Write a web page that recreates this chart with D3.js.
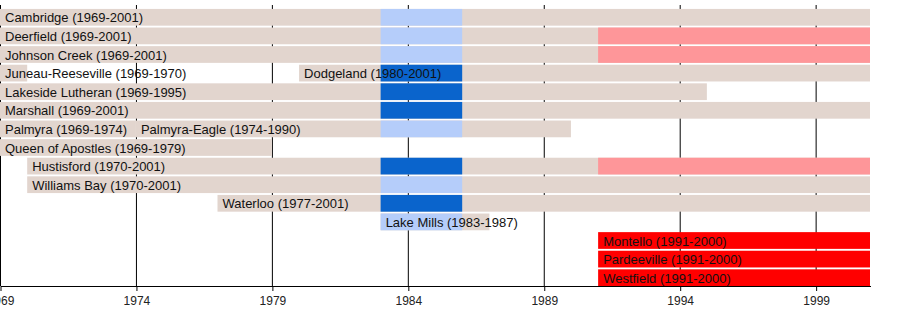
<!DOCTYPE html>
<html>
<head>
<meta charset="utf-8">
<script src="https://cdn.jsdelivr.net/npm/d3@7/dist/d3.min.js"></script>
<style>
  html, body { margin: 0; padding: 0; background: #fff; }
  svg { display: block; }
</style>
</head>
<body>
<script>
// ---- data ----
const rows = ["Cambridge","Deerfield","Johnson Creek","Juneau-Reeseville","Lakeside Lutheran","Marshall",
  "Palmyra","Queen of Apostles","Hustisford","Williams Bay","Waterloo","Lake Mills","Montello","Pardeeville","Westfield"];

// main membership bars: [row, from, to]
const memberBars = [
  ["Cambridge",1969,2001],["Deerfield",1969,2001],["Johnson Creek",1969,2001],
  ["Juneau-Reeseville",1969,1970],["Juneau-Reeseville",1980,2001],
  ["Lakeside Lutheran",1969,1995],["Marshall",1969,2001],
  ["Palmyra",1969,1974],["Palmyra",1974,1990],["Queen of Apostles",1969,1979],
  ["Hustisford",1970,2001],["Williams Bay",1970,2001],["Waterloo",1977,2001],["Lake Mills",1983,1987]
];
// division 1983-1986 light blue
const lightBlueBars = [
  ["Cambridge",1983,1986],["Deerfield",1983,1986],["Johnson Creek",1983,1986],
  ["Palmyra",1983,1986],["Williams Bay",1983,1986],["Lake Mills",1983,1986]
];
// division 1983-1986 dark blue
const darkBlueBars = [
  ["Juneau-Reeseville",1983,1986],["Lakeside Lutheran",1983,1986],["Marshall",1983,1986],
  ["Hustisford",1983,1986],["Waterloo",1983,1986]
];
// division 1991-2001 pink
const pinkBars = [["Deerfield",1991,2001],["Johnson Creek",1991,2001],["Hustisford",1991,2001]];
// division 1991-2001 red
const redBars = [["Montello",1991,2001],["Pardeeville",1991,2001],["Westfield",1991,2001]];

// labels: [row, at, text]
const labels = [
  ["Cambridge",1969,"Cambridge (1969-2001)"],["Deerfield",1969,"Deerfield (1969-2001)"],
  ["Johnson Creek",1969,"Johnson Creek (1969-2001)"],["Juneau-Reeseville",1969,"Juneau-Reeseville (1969-1970)"],
  ["Juneau-Reeseville",1980,"Dodgeland (1980-2001)"],["Lakeside Lutheran",1969,"Lakeside Lutheran (1969-1995)"],
  ["Marshall",1969,"Marshall (1969-2001)"],["Palmyra",1969,"Palmyra (1969-1974)"],
  ["Palmyra",1974,"Palmyra-Eagle (1974-1990)"],["Queen of Apostles",1969,"Queen of Apostles (1969-1979)"],
  ["Hustisford",1970,"Hustisford (1970-2001)"],["Williams Bay",1970,"Williams Bay (1970-2001)"],
  ["Waterloo",1977,"Waterloo (1977-2001)"],["Lake Mills",1983,"Lake Mills (1983-1987)"],
  ["Montello",1991,"Montello (1991-2000)"],["Pardeeville",1991,"Pardeeville (1991-2000)"],
  ["Westfield",1991,"Westfield (1991-2000)"]
];
const tickYears = [1969,1974,1979,1984,1989,1994,1999];

// ---- chart ----
const W = 900, H = 335;
const svg = d3.select("body").append("svg").attr("width", W).attr("height", H);

const x = d3.scaleLinear().domain([1969, 2001]).range([0, 870]);
const y = d3.scaleBand().domain(rows).range([8, 287]).paddingInner(0.1).paddingOuter(0.05);
const axisY = 286;

// grid lines
svg.append("g").selectAll("line").data(tickYears).join("line")
  .attr("x1", d => x(d) + 0.5).attr("x2", d => x(d) + 0.5)
  .attr("y1", 5).attr("y2", axisY)
  .attr("stroke", "#000").attr("stroke-width", 1);

function drawBars(data, color) {
  svg.append("g").selectAll("rect").data(data).join("rect")
    .attr("x", d => x(d[1]))
    .attr("width", d => x(d[2]) - x(d[1]))
    .attr("y", d => y(d[0]))
    .attr("height", y.bandwidth())
    .attr("fill", color);
}
drawBars(memberBars, "#e2d5ce");
drawBars(lightBlueBars, "#b5cdfa");
drawBars(darkBlueBars, "#0a64cc");
drawBars(pinkBars, "#fe9699");
drawBars(redBars, "#ff0000");

// labels
svg.append("g").selectAll("text").data(labels).join("text")
  .attr("x", d => x(d[1]) + 5)
  .attr("y", d => y(d[0]) + y.bandwidth() / 2 + 0.5)
  .attr("dominant-baseline", "central")
  .attr("font-family", "Liberation Sans, Arial, sans-serif")
  .attr("font-size", "13px")
  .attr("fill", "#111")
  .text(d => d[2]);

// axis
const axis = d3.axisBottom(x).tickValues(tickYears).tickFormat(d3.format("d")).tickSize(5).tickSizeOuter(0);
const ag = svg.append("g").attr("transform", `translate(0.5,${axisY})`).call(axis);
ag.select(".domain").attr("stroke", "#000");
ag.selectAll(".tick line").attr("stroke", "#000");
ag.selectAll(".tick text")
  .attr("font-family", "Liberation Sans Narrow, Arial Narrow, sans-serif")
  .attr("font-size", "12px")
  .attr("fill", "#222")
  .attr("dy", "0.9em");
</script>
</body>
</html>
